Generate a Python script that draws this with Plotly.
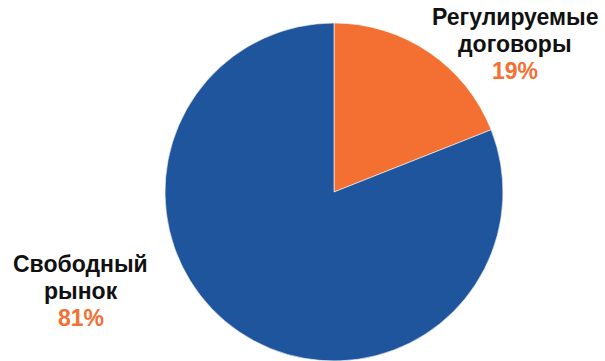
import plotly.graph_objects as go

W, H = 605, 361

# Market share data
labels = ["Регулируемые договоры", "Свободный рынок"]
label_lines = [["Регулируемые", "договоры"], ["Свободный", "рынок"]]
values = [19, 81]
colors = ["#F36F32", "#1E559C"]

fig = go.Figure(
    go.Pie(
        labels=labels,
        values=values,
        sort=False,
        direction="clockwise",
        rotation=0,
        textinfo="none",
        hoverinfo="label+percent",
        marker=dict(colors=colors, line=dict(color="#FFFFFF", width=0.6)),
        domain=dict(x=[165 / W, 503 / W], y=[1 - 361 / H, 1 - 23 / H]),
        showlegend=False,
    )
)

FONT = "Liberation Sans, Arial, sans-serif"
SIZE = 23
STEP = 26.8

# Outside labels: (x center, first baseline y) in pixels
label_pos = [(515, 25), (80.5, 272)]
for lines, v, (px, py) in zip(label_lines, values, label_pos):
    rows = [(s, "#111111") for s in lines] + [(f"{v}%", colors[0])]
    for i, (txt, col) in enumerate(rows):
        base = py + i * STEP
        fig.add_annotation(
            x=px / W,
            y=1 - (base - 0.35 * SIZE) / H,
            xref="paper",
            yref="paper",
            xanchor="center",
            yanchor="middle",
            text=f"<b>{txt}</b>",
            showarrow=False,
            font=dict(family=FONT, size=SIZE, color=col),
        )

fig.update_layout(
    width=W,
    height=H,
    margin=dict(l=0, r=0, t=0, b=0),
    paper_bgcolor="white",
    plot_bgcolor="white",
)

fig.write_html("out.html")
